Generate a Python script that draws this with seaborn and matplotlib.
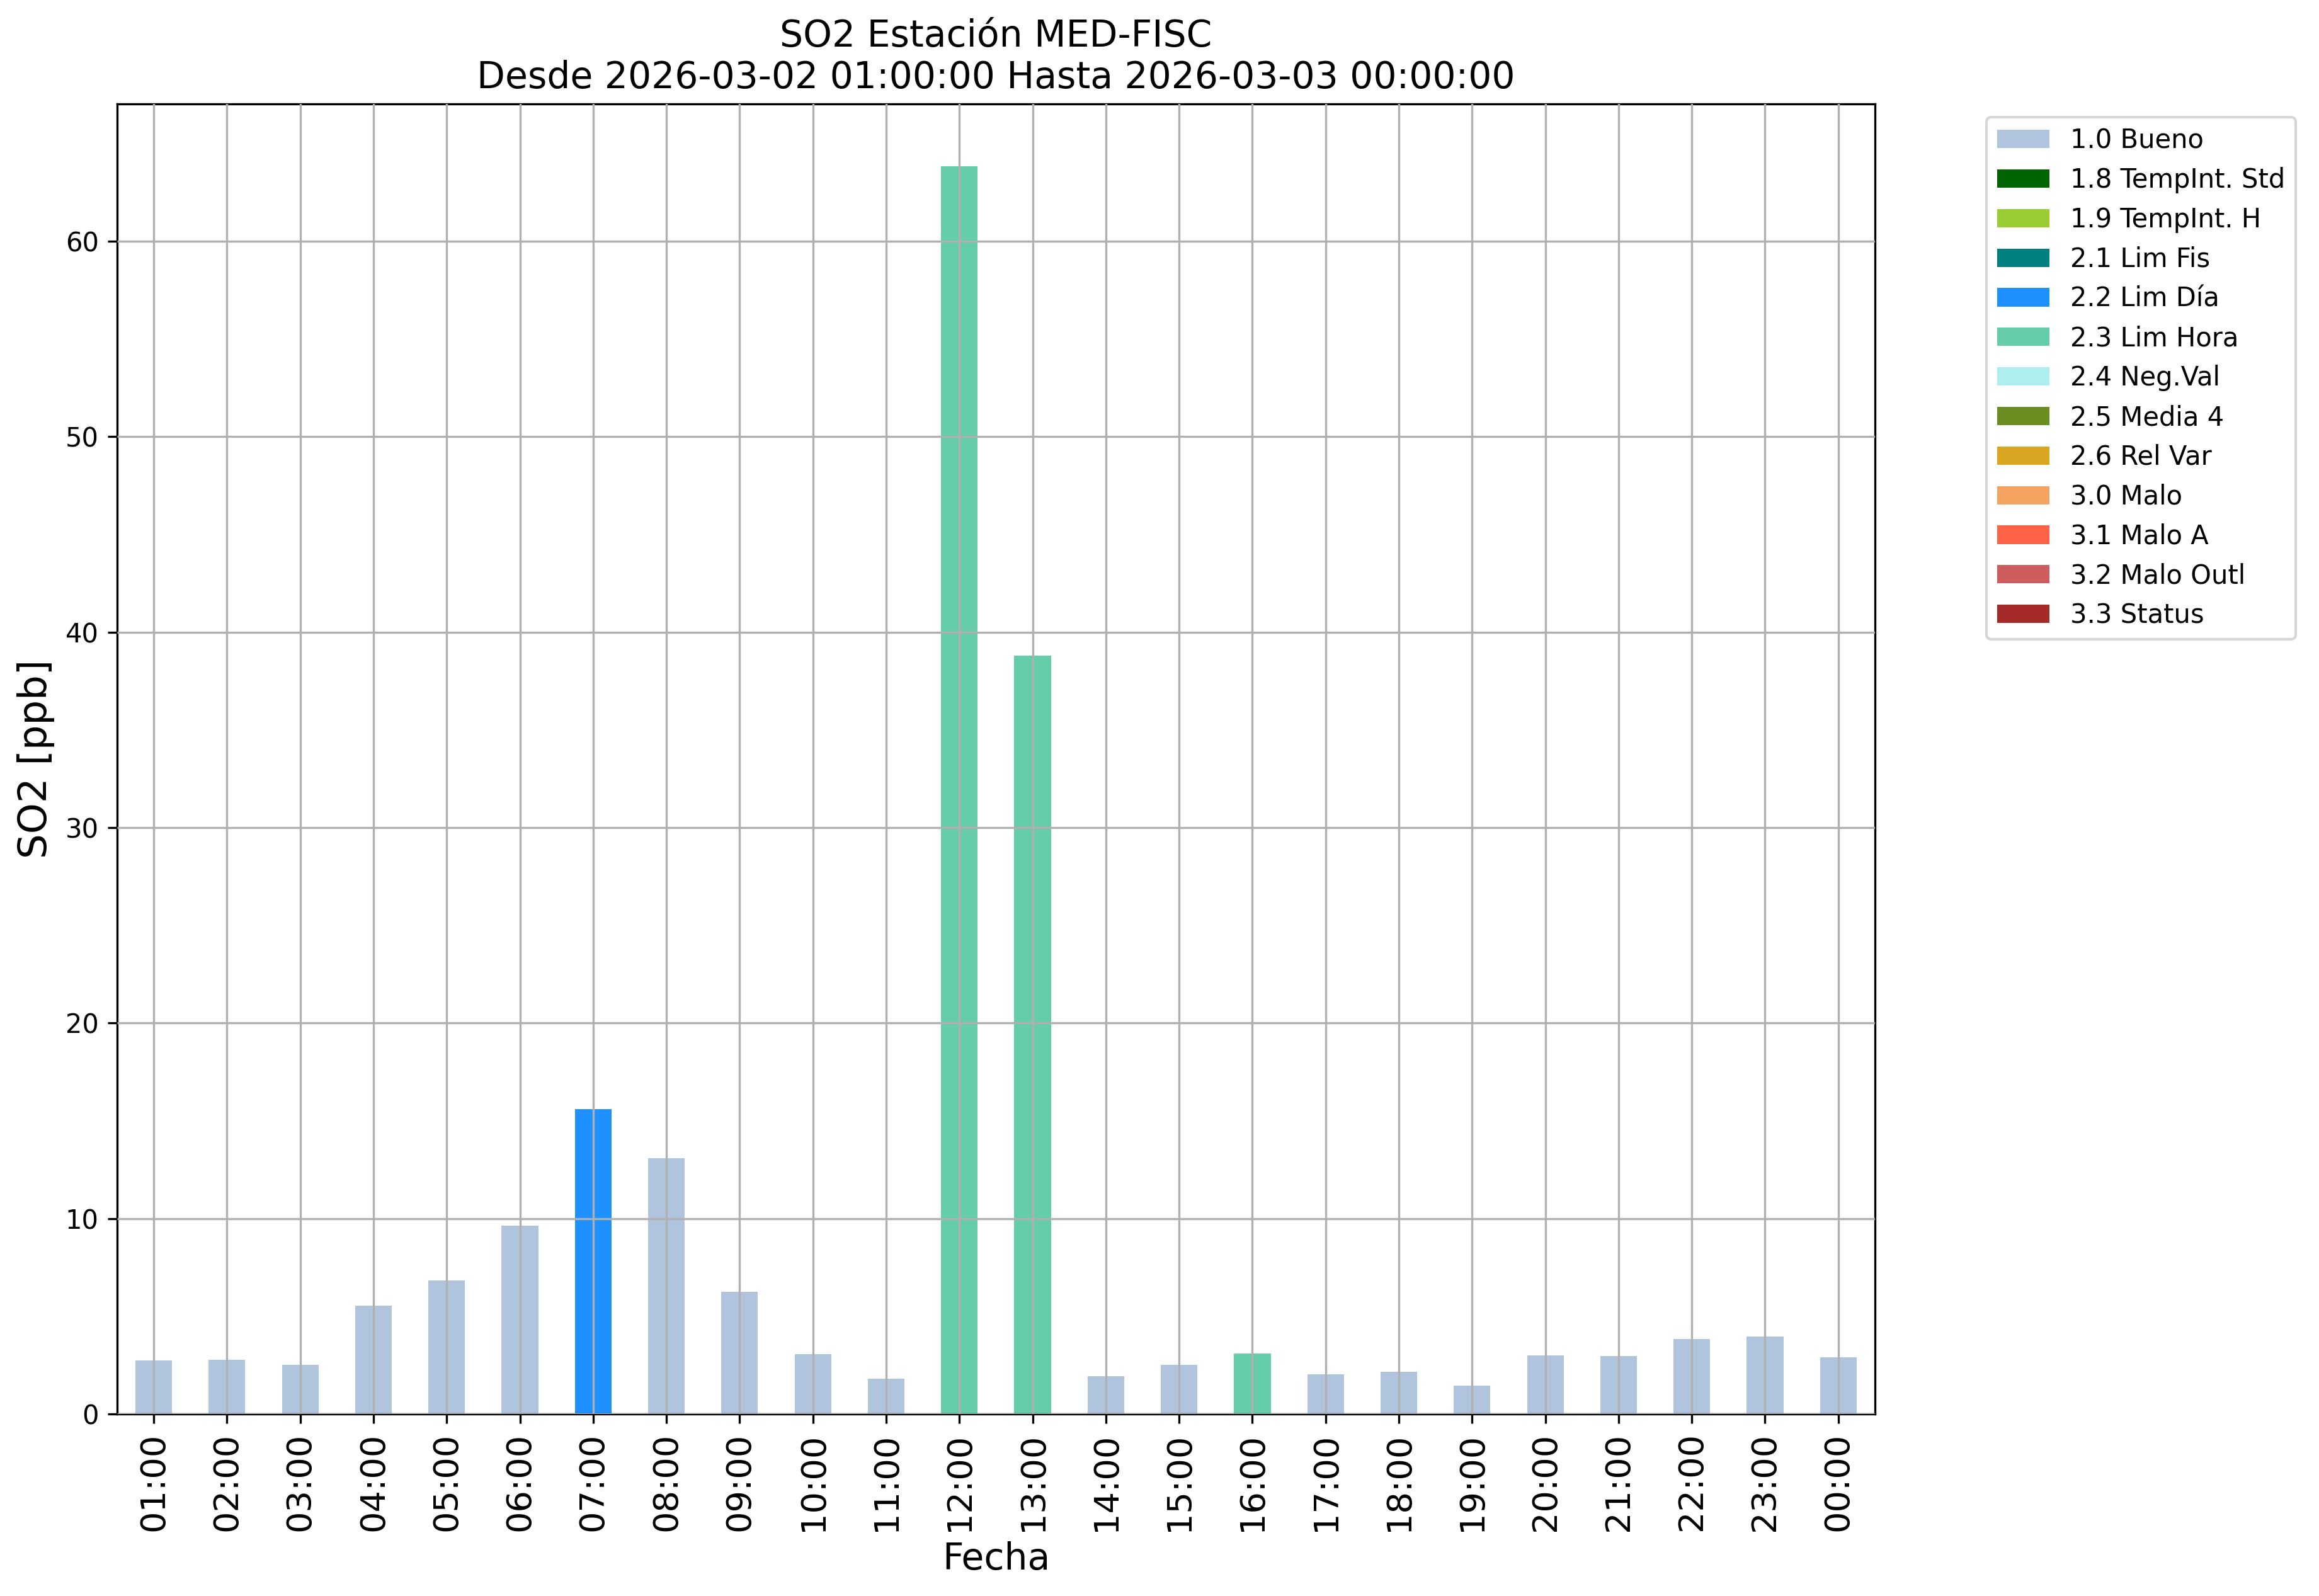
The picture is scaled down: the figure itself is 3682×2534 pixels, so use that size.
import pandas as pd
import matplotlib
matplotlib.use("Agg")
import matplotlib.pyplot as plt
import seaborn as sns
from matplotlib.patches import Patch

# Horas (etiquetas del eje x) y valores de SO2 [ppb]
horas = ['01:00', '02:00', '03:00', '04:00', '05:00', '06:00', '07:00', '08:00',
         '09:00', '10:00', '11:00', '12:00', '13:00', '14:00', '15:00', '16:00',
         '17:00', '18:00', '19:00', '20:00', '21:00', '22:00', '23:00', '00:00']
valores = [2.74, 2.77, 2.51, 5.56, 6.82, 9.63, 15.6, 13.1, 6.27, 3.06, 1.80, 63.84,
           38.8, 1.93, 2.51, 3.10, 2.02, 2.16, 1.45, 2.99, 2.97, 3.84, 3.97, 2.90]
# Bandera de validacion de cada hora
banderas = ['1.0 Bueno'] * 6 + ['2.2 Lim Día'] + ['1.0 Bueno'] * 4 + \
           ['2.3 Lim Hora'] * 2 + ['1.0 Bueno'] * 2 + ['2.3 Lim Hora'] + ['1.0 Bueno'] * 8

# Todas las banderas posibles y su color
flags = ['1.0 Bueno', '1.8 TempInt. Std', '1.9 TempInt. H', '2.1 Lim Fis',
         '2.2 Lim Día', '2.3 Lim Hora', '2.4 Neg.Val', '2.5 Media 4',
         '2.6 Rel Var', '3.0 Malo', '3.1 Malo A', '3.2 Malo Outl', '3.3 Status']
colores = ['lightsteelblue', 'darkgreen', 'yellowgreen', 'teal', 'dodgerblue',
           'mediumaquamarine', 'paleturquoise', 'olivedrab', 'goldenrod',
           'sandybrown', 'tomato', 'indianred', 'brown']

df = pd.DataFrame({'Fecha': horas, 'SO2': valores, 'flag': banderas})
paleta = dict(zip(flags, colores))

fig = plt.figure(figsize=(3682 / 300, 2534 / 300), dpi=300)
ax = fig.add_axes([0.0505, 0.114, 0.8575 - 0.0505 - 0.049, 0.935 - 0.114])

sns.barplot(data=df, x='Fecha', y='SO2', hue='flag', hue_order=flags,
            order=horas, palette=paleta, dodge=False, width=0.5,
            saturation=1, errorbar=None, linewidth=0, legend=False, ax=ax)

ax.grid(True, color='#b0b0b0', linewidth=0.8)
ax.set_axisbelow(False)
ax.set_title('SO2 Estación MED-FISC\nDesde 2026-03-02 01:00:00 Hasta 2026-03-03 00:00:00',
             fontsize=14)
ax.set_xlabel('Fecha', fontsize=14)
ax.set_ylabel('SO2 [ppb]', fontsize=15)
ax.tick_params(axis='x', labelsize=13, rotation=90)
ax.tick_params(axis='y', labelsize=10)

handles = [Patch(facecolor=c, label=l) for l, c in zip(flags, colores)]
ax.legend(handles=handles, bbox_to_anchor=(1.056, 1), loc='upper left', fontsize=10)

fig.savefig('out.png', dpi=300)
